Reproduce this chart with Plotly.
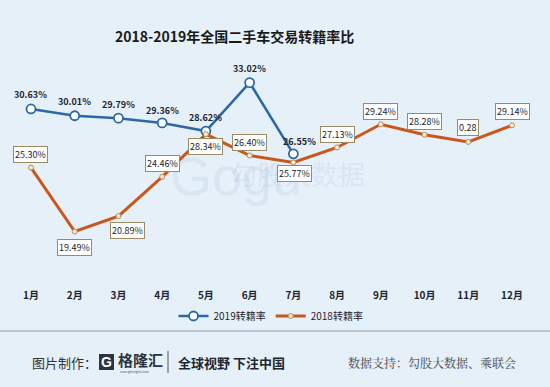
import plotly.graph_objects as go

months = ["1月", "2月", "3月", "4月", "5月", "6月", "7月", "8月", "9月", "10月", "11月", "12月"]
rate_2019 = [30.63, 30.01, 29.79, 29.36, 28.62, 33.02, 26.55]
rate_2018 = [25.30, 19.49, 20.89, 24.46, 28.34, 26.40, 25.77, 27.13, 29.24, 28.28, 27.63, 29.14]
labels_2019 = ["30.63%", "30.01%", "29.79%", "29.36%", "28.62%", "33.02%", "26.55%"]
labels_2018 = ["25.30%", "19.49%", "20.89%", "24.46%", "28.34%", "26.40%", "25.77%",
               "27.13%", "29.24%", "28.28%", "0.28", "29.14%"]

# label offsets (px): positive = above the point
shift_2018 = [13, -16, -14, 13, -12, 13, -11, 13, 13, 13, 14, 14]
xshift_2018 = [0, 0, 9, 0, 0, 0, 1, 0, 0, 0, 0, 0]
xshift_2019 = [0, 0, 0, 0, 0, 0, 6]
yshift_2019 = [14, 14, 14, 12, 14, 14, 12]

BLUE = "#2d68a6"
ORANGE = "#c9571b"
FONT = "Noto Sans CJK SC"

fig = go.Figure()
fig.add_trace(go.Scatter(
    x=months[:len(rate_2019)], y=rate_2019, name="2019转籍率", mode="lines+markers",
    line=dict(color=BLUE, width=2.5),
    marker=dict(symbol="circle", size=9, color="white", line=dict(color=BLUE, width=1.8)),
))
fig.add_trace(go.Scatter(
    x=months, y=rate_2018, name="2018转籍率", mode="lines+markers",
    line=dict(color=ORANGE, width=3),
    marker=dict(symbol="circle", size=5, color="#f8ecd4", line=dict(color="#b98a58", width=1)),
))

def px(xpx):
    return (xpx - 10) / 530

def py(ypx):
    return (280 - ypx) / 220

annotations = []
# watermark
WM = "rgba(150,175,210,0.17)"
annotations.append(dict(xref="paper", yref="paper", x=px(168), y=py(176), text="Gogu",
                        showarrow=False, font=dict(family="Arial", size=54, color=WM)))
annotations.append(dict(xref="paper", yref="paper", x=px(276), y=py(168), text="dat",
                        showarrow=False, font=dict(family="Arial", size=13, color=WM)))
annotations.append(dict(xref="paper", yref="paper", x=px(367), y=py(173), text="勾股大数据",
                        showarrow=False, font=dict(family=FONT, size=27, color=WM)))

for m, v, t, xs, ys in zip(months, rate_2019, labels_2019, xshift_2019, yshift_2019):
    annotations.append(dict(x=m, y=v, text=t, showarrow=False, yshift=ys, xshift=xs,
                            font=dict(family=FONT, size=9, color="#1e2430", weight="bold")))
for m, v, t, ys, xs in zip(months, rate_2018, labels_2018, shift_2018, xshift_2018):
    annotations.append(dict(x=m, y=v, text=t, showarrow=False, yshift=ys, xshift=xs,
                            bgcolor="rgba(255,255,255,0.95)", bordercolor="#9e8a62", borderwidth=1, borderpad=1,
                            font=dict(family=FONT, size=9, color="#1e2430")))

# title
annotations.append(dict(xref="paper", yref="paper", x=px(234), y=py(36), text="2018-2019年全国二手车交易转籍率比",
                        showarrow=False, font=dict(family=FONT, size=14, color="#1a1a1a", weight="bold"),
                        xanchor="center", yanchor="middle"))

# footer
def foot(xpx, ypx, text, size, color="#333", weight="normal", family=FONT, anchor="left"):
    annotations.append(dict(xref="paper", yref="paper", x=px(xpx), y=py(ypx), text=text,
                            showarrow=False, xanchor=anchor, yanchor="middle",
                            font=dict(family=family, size=size, color=color, weight=weight)))

foot(30, 362, "图片制作：", 13, "#333")
foot(99, 362, "<b>G</b>", 14, "white", "bold", "Arial")
foot(116, 359, "格隆汇", 15, "#2b3440", "bold")
foot(118, 372, "www.gelonghui.com", 3, "#555")
foot(176, 362, "全球视野 下注中国", 13, "#1f2630", "bold")
foot(346, 362, "数据支持：勾股大数据、乘联会", 12, "#444", "normal", "Noto Serif CJK SC, Noto Sans CJK SC")

shapes = [
    dict(type="line", xref="paper", yref="paper", x0=px(0), x1=px(550),
         y0=py(331), y1=py(331), line=dict(color="#8e9caa", width=1)),
    dict(type="rect", xref="paper", yref="paper", x0=px(99), x1=px(114),
         y0=py(370), y1=py(354), fillcolor="#2b3440", line=dict(width=0)),
    dict(type="line", xref="paper", yref="paper", x0=px(168), x1=px(168),
         y0=py(373), y1=py(351), line=dict(color="#555", width=1)),
]

fig.update_layout(
    width=550, height=387,
    margin=dict(l=10, r=10, t=60, b=107),
    paper_bgcolor="#e6f0f9", plot_bgcolor="rgba(0,0,0,0)",
    showlegend=True,
    legend=dict(orientation="h", xanchor="center", x=px(271), yanchor="middle", y=py(316),
                font=dict(family=FONT, size=10, color="#1e2430"), itemwidth=30, bgcolor="rgba(0,0,0,0)"),
    xaxis=dict(type="category", range=[-0.48, 11.64], showgrid=False, zeroline=False, showline=False,
               tickfont=dict(family=FONT, size=10, color="#1e2430", weight="bold"), ticks="", ticklabelstandoff=8),
    yaxis=dict(range=[15.08, 35.08], visible=False),
    annotations=annotations, shapes=shapes,
)

fig.write_html("out.html", config={"displayModeBar": False},
               post_script="document.body.style.margin='0';document.body.style.overflow='hidden';")
